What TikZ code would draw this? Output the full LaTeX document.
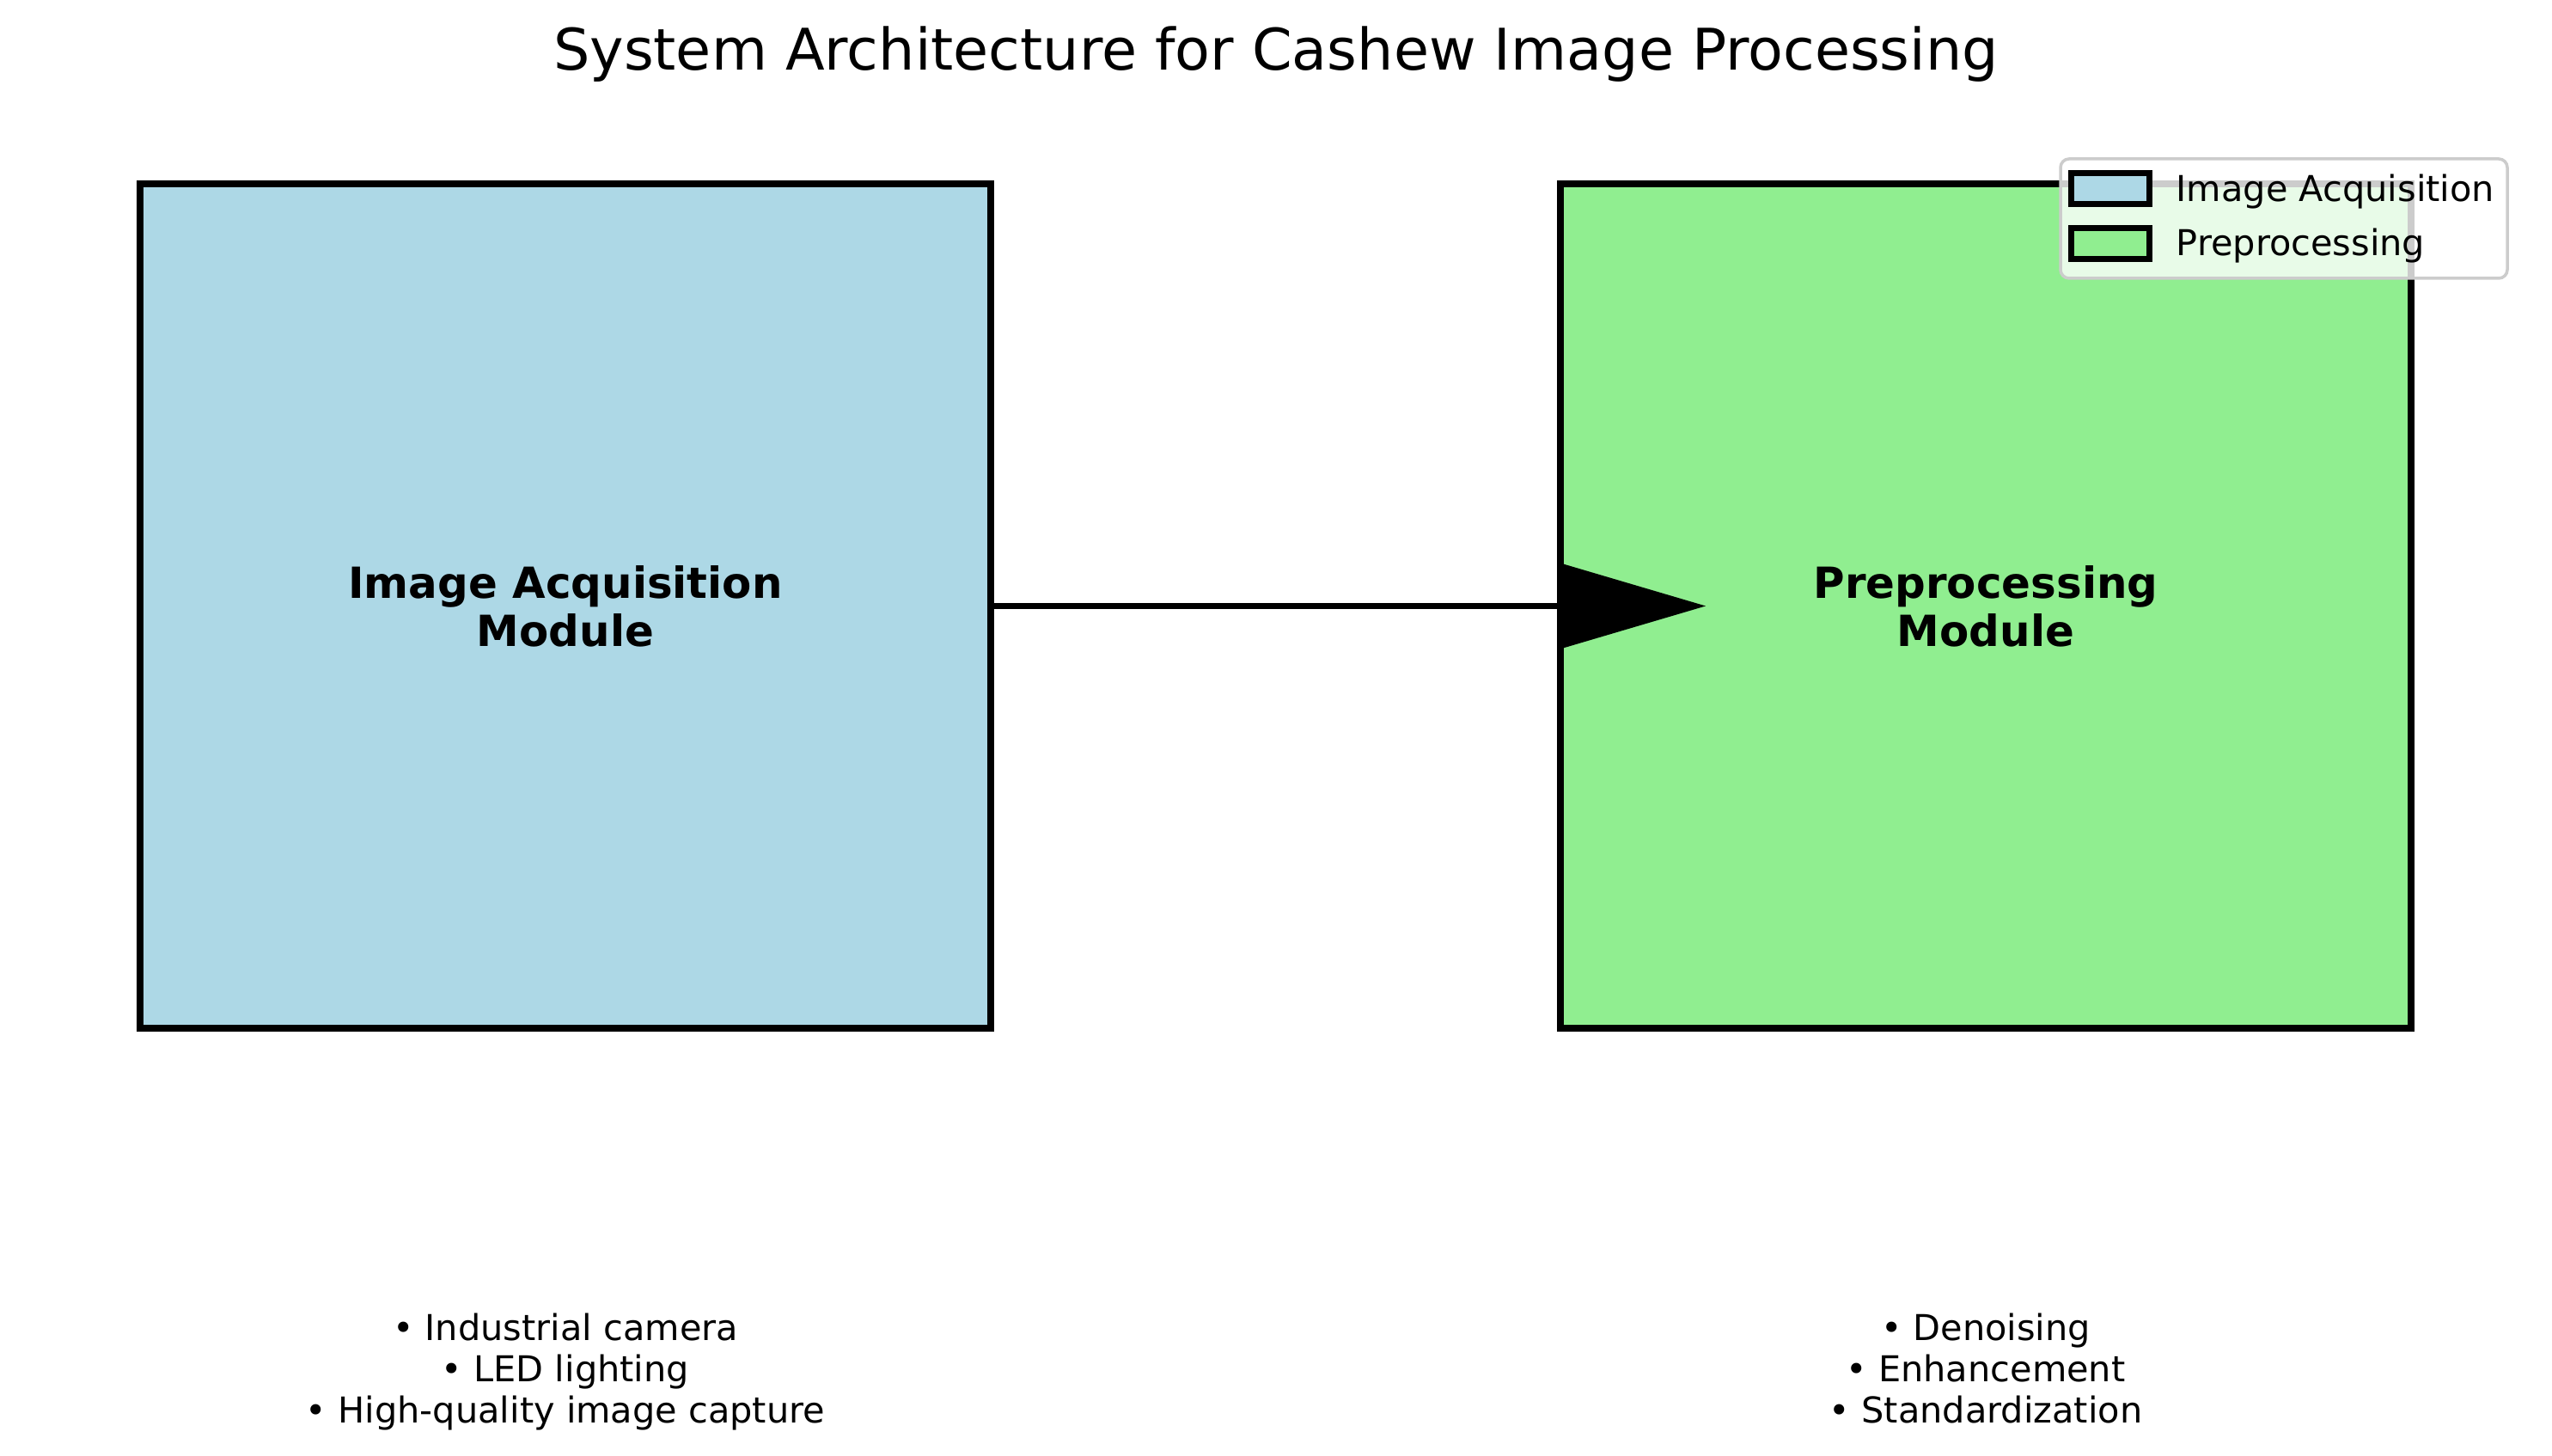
\documentclass[tikz,border=0pt]{standalone}
\usepackage{fontspec}
\setmainfont{DejaVu Sans}
\usetikzlibrary{arrows.meta}
\definecolor{acqblue}{HTML}{ADD8E6}
\definecolor{prepgreen}{HTML}{90EE90}
\tikzset{
    modbox/.style={draw, line width=2.1pt, minimum width=9.9cm, minimum height=9.83cm, inner sep=0pt, align=center, font=\bfseries\fontsize{14.2}{15.9}\selectfont},
    bullets/.style={align=center, inner sep=0pt, font=\fontsize{11.8}{13.75}\selectfont},
    legframe/.style={draw=black!20, line width=1pt, fill=white, fill opacity=0.8, rounded corners=0.1cm, minimum width=5.2cm, minimum height=1.39cm},
    legpatch/.style={draw, line width=2pt, minimum width=0.91cm, minimum height=0.36cm, inner sep=0pt},
    legtext/.style={anchor=base west, inner sep=0pt, font=\fontsize{11.8}{14}\selectfont}}

\begin{document}
\begin{tikzpicture}
\useasboundingbox (0,0) rectangle (29.7,16.95);

\node[font=\fontsize{19}{23}\selectfont, anchor=base] (title) at (14.85,16.13) {System Architecture for Cashew Image Processing};

\node[modbox, fill=acqblue] (acq) at (6.58,9.895) {Image Acquisition\\Module};
\node[modbox, fill=prepgreen] (prep) at (23.11,9.895) {Preprocessing\\Module};

\coordinate (tip) at ([xshift=17.3mm]prep.west);
\draw [line width=2.1pt, -{Triangle[length=17.3mm,width=10mm]}] (acq.east) -- (tip);

% lists sit on the baseline of their last line
\node[bullets, anchor=base] (acqlist) at (6.58,0.38) {• Industrial camera\\• LED lighting\\• High-quality image capture};
\node[bullets, anchor=base] (preplist) at (23.11,0.38) {• Denoising\\• Enhancement\\• Standardization};

% legend
\node[legframe] (legend) at (26.58,14.405) {};
\node[legpatch, fill=acqblue] (legacq) at (24.555,14.75) {};
\node[legpatch, fill=prepgreen] (legprep) at (24.555,14.115) {};
\node[legtext] (legacqtext) at (25.32,14.60) {Image Acquisition};
\node[legtext] (legpreptext) at (25.32,13.97) {Preprocessing};
\end{tikzpicture}
\end{document}
